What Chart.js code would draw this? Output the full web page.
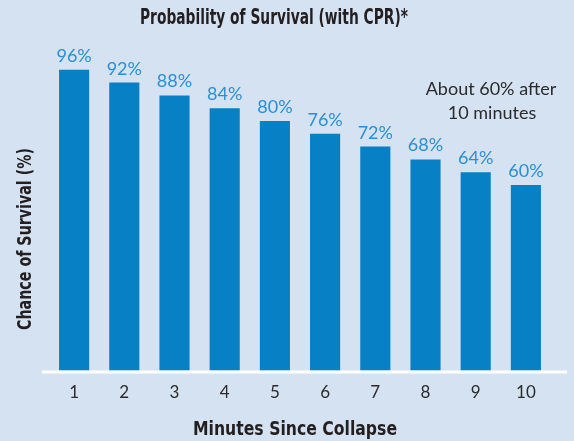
<!DOCTYPE html>
<html>
<head>
<meta charset="utf-8">
<script src="https://cdn.jsdelivr.net/npm/chart.js@4"></script>
<style>
  html, body { margin: 0; padding: 0; background: #d4e2f2; }
  #wrap { width: 574px; height: 441px; }
</style>
</head>
<body>
<div id="wrap"><canvas id="survivalChart"></canvas></div>
<script>
const minutes = ["1", "2", "3", "4", "5", "6", "7", "8", "9", "10"];
const survival = [96, 92, 88, 84, 80, 76, 72, 68, 64, 60];
const titleText = "Probability of Survival (with CPR)*";
const yTitle = "Chance of Survival (%)";
const xTitle = "Minutes Since Collapse";
const noteLines = ["About 60% after", "10 minutes"];

const narrowBold = "'Liberation Sans Narrow', 'DejaVu Sans Condensed', sans-serif";
const labelFont = "Lato, 'Open Sans', sans-serif";

// squeeze a bold label horizontally so it looks like a narrow face
function narrowText(ctx, text, x, y, size, width, angle) {
  ctx.save();
  ctx.font = "bold " + size + "px " + narrowBold;
  const w = ctx.measureText(text).width;
  ctx.translate(x, y);
  if (angle) ctx.rotate(angle);
  ctx.scale(width / w, 1);
  ctx.fillText(text, 0, 0);
  ctx.restore();
}

// value labels, titles, note and the white base line
const extras = {
  id: "extras",
  afterDatasetsDraw(chart) {
    const ctx = chart.ctx;
    const area = chart.chartArea;
    ctx.save();

    ctx.strokeStyle = "#ffffff";
    ctx.lineWidth = 3;
    ctx.beginPath();
    ctx.moveTo(42, area.bottom + 1.5);
    ctx.lineTo(567, area.bottom + 1.5);
    ctx.stroke();

    ctx.fillStyle = "#2a8fd4";
    ctx.font = "18px " + labelFont;
    ctx.textAlign = "center";
    ctx.textBaseline = "alphabetic";
    chart.getDatasetMeta(0).data.forEach((bar, i) => {
      ctx.fillText(survival[i] + "%", bar.x, bar.y - 8);
    });

    ctx.fillStyle = "#2b2b2b";
    ctx.font = "18px " + labelFont;
    ctx.textBaseline = "middle";
    ctx.fillText(noteLines[0], 491, 89);
    ctx.fillText(noteLines[1], 492, 113);

    ctx.fillStyle = "#231f20";
    narrowText(ctx, titleText, 274, 19, 21, 268, 0);
    narrowText(ctx, xTitle, 295, 430, 20, 204, 0);
    narrowText(ctx, yTitle, 26, 239, 20, 182, -Math.PI / 2);
    ctx.restore();
  }
};

const ctx = document.getElementById("survivalChart").getContext("2d");
const survivalChart = new Chart(ctx, {
  type: "bar",
  data: {
    labels: minutes,
    datasets: [
      {
        label: "Chance of Survival",
        data: survival,
        backgroundColor: "#0880c6",
        barPercentage: 0.6,
        categoryPercentage: 1.0,
      },
    ],
  },
  options: {
    responsive: true,
    maintainAspectRatio: false,
    animation: false,
    layout: {
      padding: { left: 49, right: 23, top: 57, bottom: 26 },
    },
    plugins: {
      legend: { display: false },
      tooltip: { enabled: false },
    },
    scales: {
      x: {
        grid: { display: false, drawTicks: false },
        border: { display: false },
        ticks: {
          padding: 12,
          color: "#2b2b2b",
          font: { family: labelFont, size: 17 },
        },
      },
      y: {
        display: false,
        min: 2,
        max: 100,
      },
    },
  },
  plugins: [extras],
});
</script>
</body>
</html>
